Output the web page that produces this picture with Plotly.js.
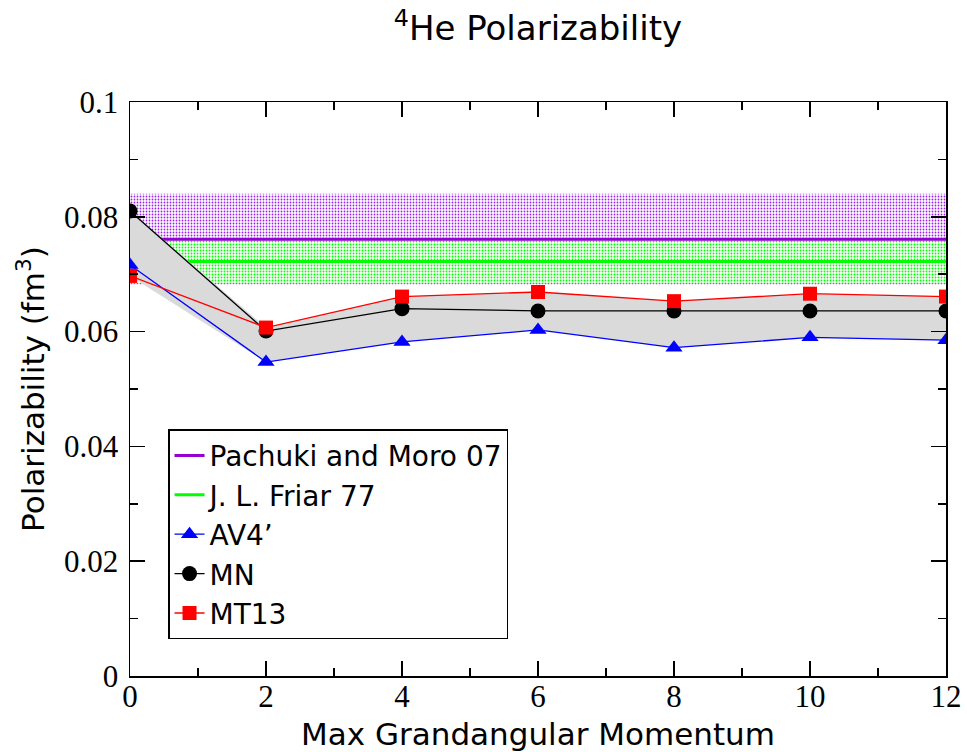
<!DOCTYPE html>
<html>
<head>
<meta charset="utf-8">
<script src="https://cdn.plot.ly/plotly-3.0.1.min.js"></script>
<style>
  html, body { margin: 0; padding: 0; background: #fff; }
  #chart { width: 967px; height: 752px; }
</style>
</head>
<body>
<div id="chart"></div>
<script>
// ---- data ----
const kMax = [0, 2, 4, 6, 8, 10, 12];
const av4  = [0.0716, 0.0547, 0.0582, 0.0603, 0.0572, 0.0590, 0.0585];
const mn   = [0.0810, 0.0601, 0.0640, 0.0636, 0.0636, 0.0636, 0.0636];
const mt13 = [0.0697, 0.0607, 0.0661, 0.0669, 0.0653, 0.0666, 0.0661];

const pachukiValue = 0.0761, pachukiErr = 0.0079;
const friarValue   = 0.0722, friarErr   = 0.0038;
const bandX = [0, 12];

const seriesNames = ["Pachuki and Moro 07", "J. L. Friar 77", "AV4\u2019", "MN", "MT13"];

// ---- derived helpers ----
function band(center, err) {
  return {
    x: [bandX[0], bandX[1], bandX[1], bandX[0], bandX[0]],
    y: [center - err, center - err, center + err, center + err, center - err]
  };
}
const upper = kMax.map((_, i) => Math.max(av4[i], mn[i], mt13[i]));
const lower = kMax.map((_, i) => Math.min(av4[i], mn[i], mt13[i]));

const pb = band(pachukiValue, pachukiErr);
const fb = band(friarValue, friarErr);

const purple = "rgb(160,32,240)";
const green = "rgb(0,255,0)";

const traces = [
  { x: pb.x, y: pb.y, mode: "lines", fill: "toself", line: { width: 0 },
    fillcolor: "rgba(0,0,0,0)",
    fillpattern: { shape: ".", fgcolor: purple, bgcolor: "white", size: 3, solidity: 0.28 },
    showlegend: false, hoverinfo: "skip" },
  { x: fb.x, y: fb.y, mode: "lines", fill: "toself", line: { width: 0 },
    fillcolor: "rgba(0,0,0,0)",
    fillpattern: { shape: ".", fgcolor: green, bgcolor: "white", size: 3, solidity: 0.3 },
    showlegend: false, hoverinfo: "skip" },
  { x: bandX, y: [pachukiValue, pachukiValue], mode: "lines",
    line: { color: "rgb(148,0,211)", width: 3 }, name: seriesNames[0] },
  { x: bandX, y: [friarValue, friarValue], mode: "lines",
    line: { color: green, width: 3 }, name: seriesNames[1] },
  { x: kMax.concat(kMax.slice().reverse()), y: upper.concat(lower.slice().reverse()),
    mode: "lines", fill: "toself", fillcolor: "rgb(218,218,218)",
    line: { width: 0 }, showlegend: false, hoverinfo: "skip" },
  { x: kMax, y: av4, mode: "lines+markers", name: seriesNames[2],
    line: { color: "rgb(0,0,255)", width: 1.3 },
    marker: { symbol: "triangle-up", size: 15, color: "rgb(0,0,255)" } },
  { x: kMax, y: mn, mode: "lines+markers", name: seriesNames[3],
    line: { color: "black", width: 1.3 },
    marker: { symbol: "circle", size: 15, color: "black" } },
  { x: kMax, y: mt13, mode: "lines+markers", name: seriesNames[4],
    line: { color: "rgb(255,0,0)", width: 1.3 },
    marker: { symbol: "square", size: 14, color: "rgb(255,0,0)" } }
];

const sans = "DejaVu Sans, Liberation Sans, Arial, sans-serif";
const serif = "Liberation Serif, Times New Roman, serif";

const layout = {
  width: 967, height: 752,
  margin: { l: 130, r: 21, t: 102, b: 76 },
  paper_bgcolor: "white", plot_bgcolor: "white",
  showlegend: true,
  title: { text: "<sup>4</sup>He Polarizability", x: 0.5, xref: "paper",
           y: 0.962, yref: "container", yanchor: "middle",
           font: { family: sans, size: 34, color: "black" } },
  xaxis: {
    range: [0, 12], dtick: 2, tick0: 0,
    showgrid: false, zeroline: false,
    showline: true, linecolor: "black", linewidth: 1.5, mirror: "ticks",
    ticks: "inside", ticklen: 15, tickwidth: 1.5, tickcolor: "black",
    minor: { dtick: 1, ticks: "inside", ticklen: 8, tickwidth: 1.5, tickcolor: "black", showgrid: false },
    tickfont: { family: serif, size: 31, color: "black" },
    ticklabelstandoff: -8,
    title: { text: "Max Grandangular Momentum", standoff: 10,
             font: { family: sans, size: 31, color: "black" } }
  },
  yaxis: {
    range: [0, 0.1], dtick: 0.02, tick0: 0,
    showgrid: false, zeroline: false,
    showline: true, linecolor: "black", linewidth: 1.5, mirror: "ticks",
    ticks: "inside", ticklen: 15, tickwidth: 1.5, tickcolor: "black",
    minor: { dtick: 0.01, ticks: "inside", ticklen: 8, tickwidth: 1.5, tickcolor: "black", showgrid: false },
    tickfont: { family: serif, size: 31, color: "black" },
    ticklabelstandoff: 4,
    title: { text: "Polarizability (fm<sup>3</sup>)", standoff: 10,
             font: { family: sans, size: 31, color: "black" } }
  },
  legend: {
    x: 0.0466, y: 0.43, xanchor: "left", yanchor: "top",
    bgcolor: "white", bordercolor: "black", borderwidth: 1.5,
    font: { family: sans, size: 28, color: "black" },
    traceorder: "normal", tracegroupgap: 0
  }
};

Plotly.newPlot("chart", traces, layout, { displayModeBar: false, staticPlot: true });
</script>
</body>
</html>
